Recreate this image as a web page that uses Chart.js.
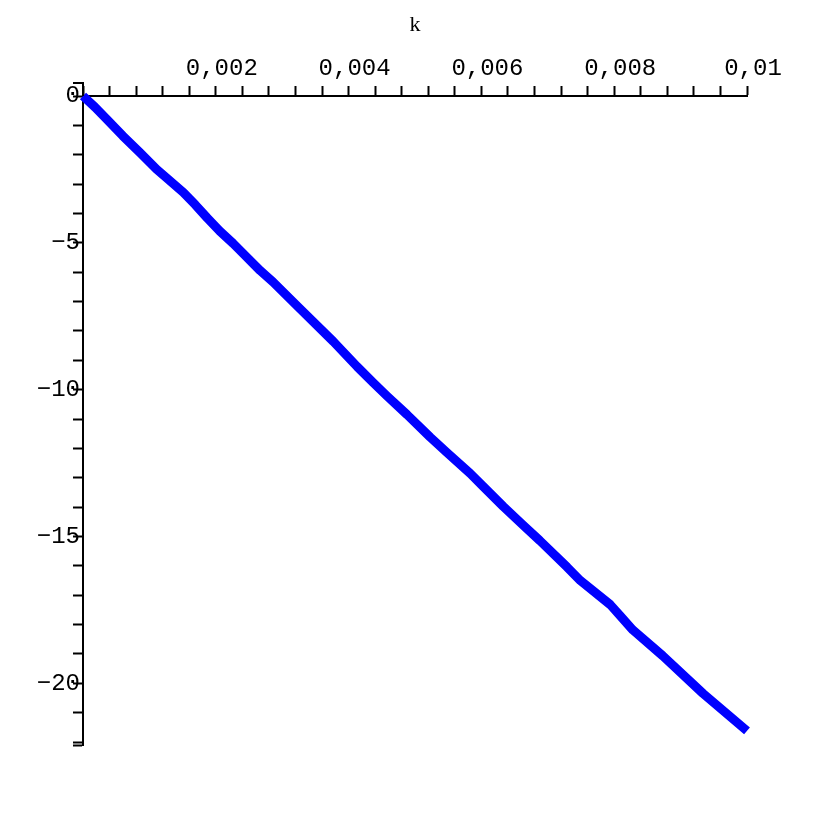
<!DOCTYPE html>
<html>
<head>
<meta charset="utf-8">
<script src="https://cdn.jsdelivr.net/npm/chart.js@4.4.0/dist/chart.umd.min.js"></script>
<style>
  html, body { margin: 0; padding: 0; background: #fff; }
  #wrap { width: 830px; height: 830px; }
</style>
</head>
<body>
<div id="wrap"><canvas id="plot" width="830" height="830"></canvas></div>
<script>
// значения кривой (k -> значение)
const kValues = [0, 0.00018, 0.00036, 0.0006, 0.00086, 0.00111, 0.00128, 0.00151, 0.00169,
  0.00187, 0.00206, 0.00226, 0.00241, 0.00267, 0.00286, 0.00324, 0.00377, 0.00413, 0.00437,
  0.00458, 0.00488, 0.00523, 0.00548, 0.00583, 0.00602, 0.00633, 0.00663, 0.00688, 0.00729,
  0.00749, 0.00794, 0.00809, 0.00828, 0.00873, 0.00934, 0.01];
const yValues = [0, -0.38, -0.80, -1.36, -1.93, -2.50, -2.83, -3.28, -3.70,
  -4.15, -4.60, -5.02, -5.36, -5.95, -6.33, -7.18, -8.36, -9.22, -9.76,
  -10.22, -10.85, -11.62, -12.14, -12.85, -13.28, -13.98, -14.62, -15.14, -16.04,
  -16.50, -17.32, -17.70, -18.18, -19.06, -20.35, -21.62];

// деления осей
const xTicks = [0, 0.0004, 0.0008, 0.0012, 0.0016, 0.002, 0.0024, 0.0028, 0.0032, 0.0036,
  0.004, 0.0044, 0.0048, 0.0052, 0.0056, 0.006, 0.0064, 0.0068, 0.0072, 0.0076,
  0.008, 0.0084, 0.0088, 0.0092, 0.0096, 0.01];
const xLabels = { 0.002: '0,002', 0.004: '0,004', 0.006: '0,006', 0.008: '0,008', 0.01: '0,01' };
const yTicks = [-22.1, -22, -21, -20, -19, -18, -17, -16, -15, -14, -13, -12, -11, -10,
  -9, -8, -7, -6, -5, -4, -3, -2, -1, 0];
const yLabels = { '0': '0', '-5': '\u22125', '-10': '\u221210', '-15': '\u221215', '-20': '\u221220' };
const yMin = -22.1;
const yStubTop = 0.44;

const monoFont = { family: 'Liberation Mono, DejaVu Sans Mono, monospace', size: 24 };

// кусочек оси y выше нуля с засечкой
const axisStub = {
  id: 'axisStub',
  afterDraw(chart) {
    const ctx = chart.ctx;
    const ys = chart.scales.y;
    const x0 = chart.chartArea.left;
    const yTop = ys.getPixelForValue(yStubTop);
    ctx.save();
    ctx.strokeStyle = '#000';
    ctx.lineWidth = 2;
    ctx.beginPath();
    ctx.moveTo(x0, ys.getPixelForValue(0));
    ctx.lineTo(x0, yTop);
    ctx.lineTo(x0 - 10, yTop);
    ctx.stroke();
    ctx.restore();
  }
};

new Chart(document.getElementById('plot'), {
  type: 'line',
  data: {
    datasets: [{
      data: kValues.map((k, i) => ({ x: k, y: yValues[i] })),
      borderColor: '#0000ff',
      borderWidth: 9,
      borderJoinStyle: 'round',
      pointRadius: 0,
      tension: 0,
      clip: false
    }]
  },
  options: {
    responsive: false,
    animation: false,
    layout: { padding: { left: 0, top: 0, right: 83, bottom: 85 } },
    plugins: { legend: { display: false }, tooltip: { enabled: false } },
    scales: {
      x: {
        type: 'linear',
        position: 'top',
        min: 0,
        max: 0.01,
        afterBuildTicks: s => { s.ticks = xTicks.map(v => ({ value: v })); },
        afterFit: s => { s.height = 96; },
        grid: { drawOnChartArea: false, tickLength: 10, tickWidth: 2, color: '#000' },
        border: { color: '#000', width: 2 },
        ticks: {
          autoSkip: false,
          maxRotation: 0,
          padding: 3,
          labelOffset: 6,
          color: '#000',
          font: monoFont,
          callback: v => xLabels[Math.round(v * 10000) / 10000] || ''
        },
        title: {
          display: true,
          text: 'k',
          color: '#000',
          font: { family: 'Liberation Serif, serif', size: 22 },
          padding: { top: 12, bottom: 0 }
        }
      },
      y: {
        type: 'linear',
        min: yMin,
        max: 0,
        afterBuildTicks: s => { s.ticks = yTicks.map(v => ({ value: v })); },
        afterFit: s => { s.width = 83; },
        grid: { drawOnChartArea: false, tickLength: 10, tickWidth: 2, color: '#000' },
        border: { color: '#000', width: 2 },
        ticks: {
          autoSkip: false,
          padding: -7,
          color: '#000',
          font: monoFont,
          callback: v => yLabels[String(v)] || ''
        }
      }
    }
  },
  plugins: [axisStub]
});
</script>
</body>
</html>
